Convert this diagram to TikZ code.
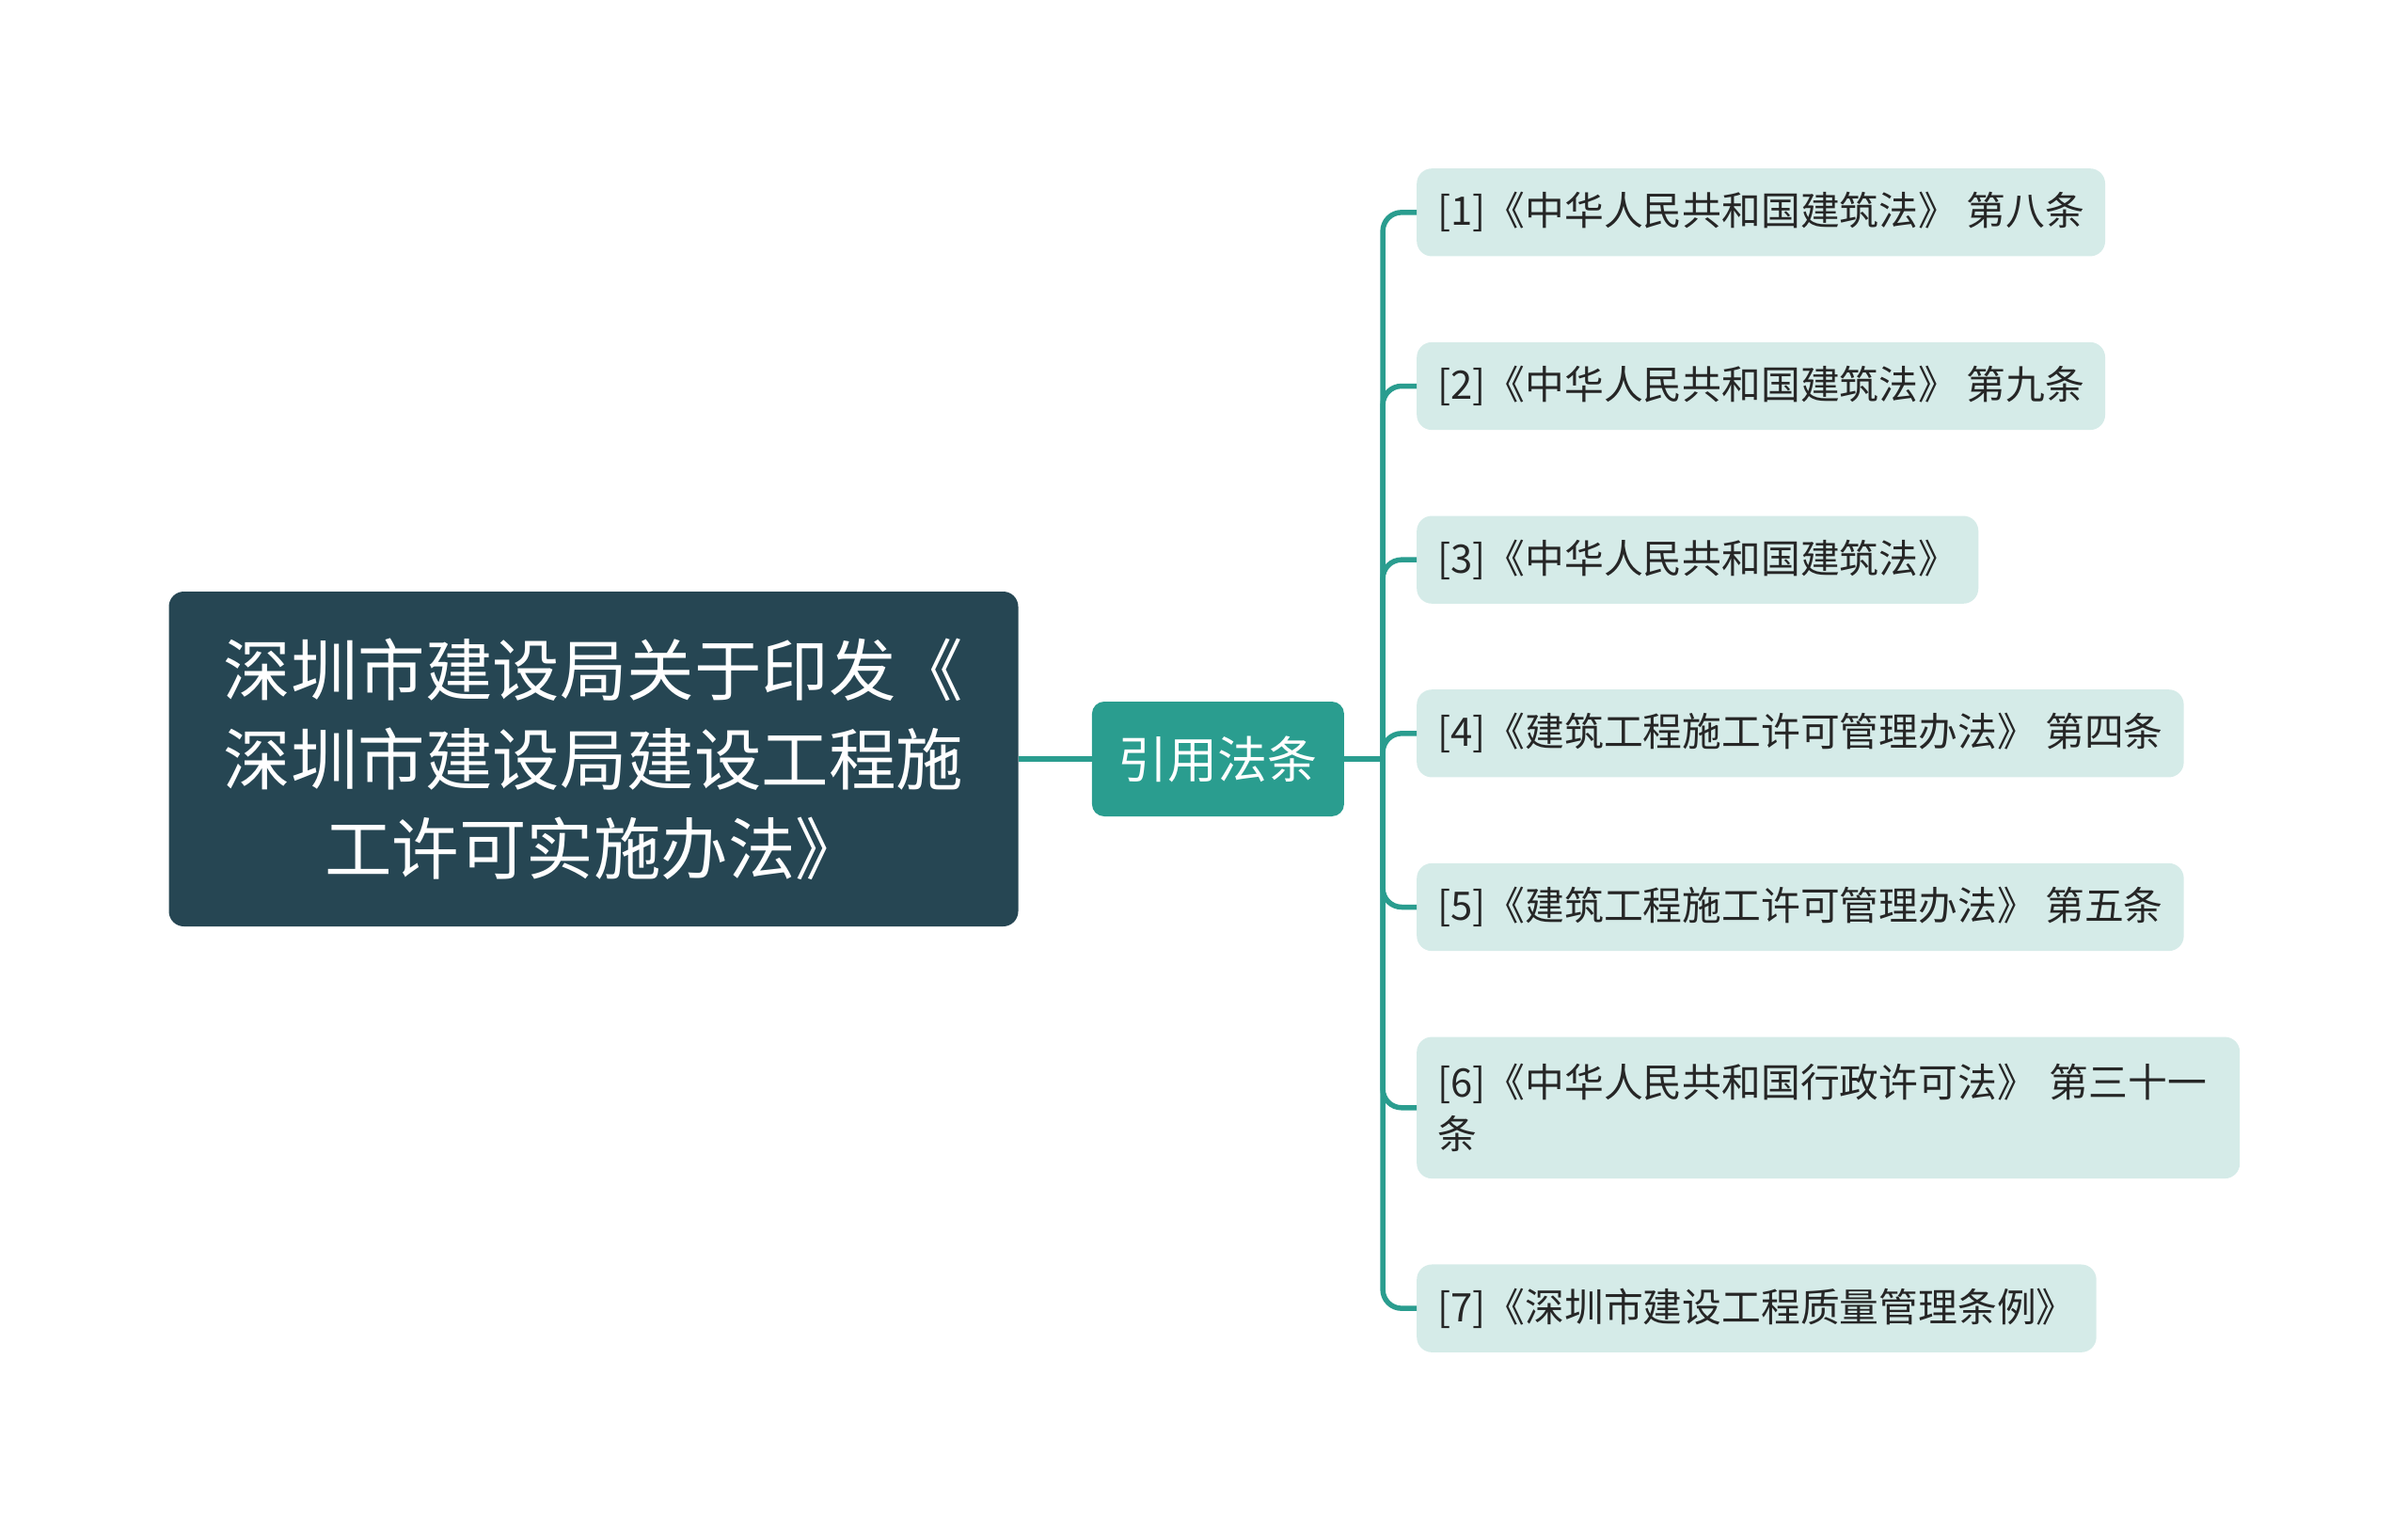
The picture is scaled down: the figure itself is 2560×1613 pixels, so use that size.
\documentclass[tikz,border=0pt]{standalone}
\usepackage{fontspec}
\setmainfont{Noto Sans CJK SC}
\usetikzlibrary{positioning}
\definecolor{rootblue}{HTML}{264653}
\definecolor{linkteal}{HTML}{2A9D8F}
\definecolor{leafgreen}{HTML}{D5EBE8}

\begin{document}
\begin{tikzpicture}[x=1pt,y=1pt,node distance=78pt,
	rootbox/.style={fill=rootblue,text=white,rounded corners=16pt,minimum width=903pt,minimum height=356pt,align=center,font=\fontsize{71.5}{95}\selectfont},
	midbox/.style={fill=linkteal,text=white,rounded corners=13pt,minimum width=268pt,minimum height=122pt,font=\fontsize{53}{64}\selectfont},
	leafbox/.style={fill=leafgreen,text=black!85,rounded corners=16pt,inner xsep=22pt,inner ysep=25.4pt,align=left,anchor=north west,font=\fontsize{41.8}{55}\selectfont},
	link/.style={draw=linkteal,line width=5.5pt}]
	\useasboundingbox (0,0) rectangle (2560,-1613);
	% root and middle node
	\node[rootbox] (root) at (631,-807) {深圳市建设局关于印发《\\深圳市建设局建设工程施\\工许可实施办法》};
	\node[midbox] [right=of root] (mid) {引用法条};
	\coordinate [right=41pt of mid.east] (fork);
	% leaves
	\node[leafbox] (l1) at (1506,-179) {[1]《中华人民共和国建筑法》 第八条};
	\node[leafbox] [below=91pt of l1.south west,anchor=north west] (l2) {[2]《中华人民共和国建筑法》 第九条};
	\node[leafbox] [below=91pt of l2.south west,anchor=north west] (l3) {[3]《中华人民共和国建筑法》};
	\node[leafbox] [below=91pt of l3.south west,anchor=north west] (l4) {[4]《建筑工程施工许可管理办法》 第四条};
	\node[leafbox] [below=91pt of l4.south west,anchor=north west] (l5) {[5]《建筑工程施工许可管理办法》 第五条};
	\node[leafbox,text width=831pt,inner ysep=28.5pt] [below=91pt of l5.south west,anchor=north west] (l6) {[6]《中华人民共和国行政许可法》 第三十一\\条};
	\node[leafbox] [below=91pt of l6.south west,anchor=north west] (l7) {[7]《深圳市建设工程质量管理条例》};
	% connectors
	\draw[link] (root) -- (mid);
	\draw[link] (mid) -- (fork);
	\foreach \i in {1,...,7}
		\draw[link,rounded corners=20pt] (fork) |- (l\i.west);
\end{tikzpicture}
\end{document}
